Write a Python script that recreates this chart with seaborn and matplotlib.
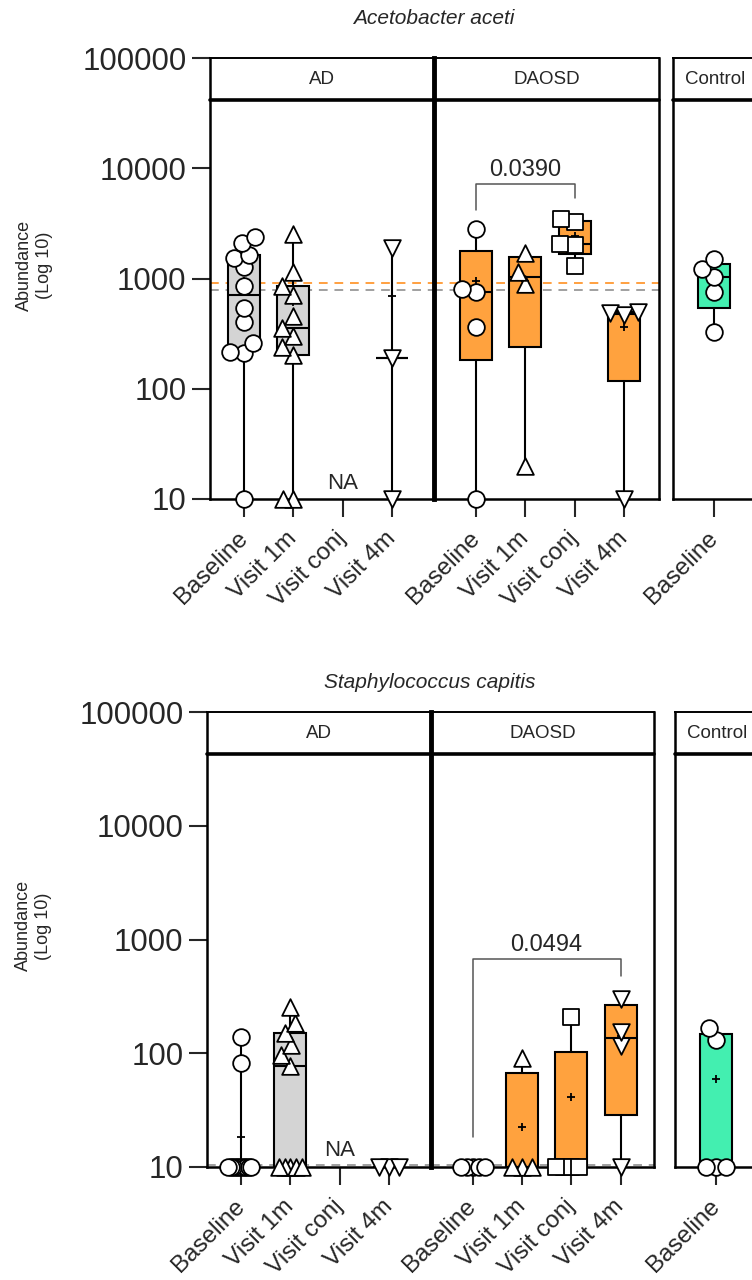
import warnings
warnings.filterwarnings("ignore")
import numpy as np
import pandas as pd
import matplotlib
matplotlib.use("Agg")
import matplotlib.pyplot as plt
from matplotlib.ticker import NullLocator
import seaborn as sns

# ---------------- data (zeros are plotted at the axis floor) ----------------
visits = ["Baseline", "Visit 1m", "Visit conj", "Visit 4m"]
visits_ctrl = ["Baseline"]
groups = ["AD", "DAOSD", "Control"]

# Acetobacter aceti
aa_ad_baseline = [0, 210, 217, 262, 405, 545, 863, 1260, 1550, 1650, 2120, 2360]
aa_ad_v1m = [0, 0, 204, 240, 300, 358, 455, 715, 850, 1150, 2510]
aa_ad_vconj = []
aa_ad_v4m = [0, 190, 1900]
aa_daosd_baseline = [0, 365, 747, 795, 2790]
aa_daosd_v1m = [20, 900, 1150, 1720]
aa_daosd_vconj = [1310, 2000, 2040, 3240, 3440]
aa_daosd_v4m = [0, 470, 490, 500]
aa_ctrl_baseline = [324, 750, 1040, 1210, 1490]
aa_ref_gray = 780
aa_ref_orange = 910
aa_pvalue = "0.0390"

# Staphylococcus capitis
sc_ad_baseline = [0, 0, 0, 0, 0, 0, 0, 0, 0, 0, 82, 138]
sc_ad_v1m = [0, 0, 0, 0, 0, 78, 96, 117, 150, 183, 253]
sc_ad_vconj = []
sc_ad_v4m = [0, 0, 0]
sc_daosd_baseline = [0, 0, 0, 0, 0]
sc_daosd_v1m = [0, 0, 0, 90]
sc_daosd_vconj = [0, 0, 0, 0, 207]
sc_daosd_v4m = [0, 115, 155, 300]
sc_ctrl_baseline = [0, 0, 0, 130, 166]
sc_ref_gray = 10.5
sc_pvalue = "0.0494"

yticks = [10, 100, 1000, 10000, 100000]
ytick_labels = ["10", "100", "1000", "10000", "100000"]
FLOOR = 10

# ---------------- styles ----------------
sns.set_style("white")
plt.rcParams["font.family"] = ["Liberation Sans", "DejaVu Sans"]
box_colors = {"AD": "#D4D4D4", "DAOSD": "#FFA23E", "Control": "#43EFB0"}
markers = {"Baseline": "o", "Visit 1m": "^", "Visit conj": "s", "Visit 4m": "v"}
MS = 12            # drawn marker size (pt)
EDGE = 1.3         # marker edge width (pt)
LAYOUT_MS = 8.5    # marker size used for the swarm layout (points overlap a bit)
FLOOR_SPREAD = 16  # pt: total spread of points sitting on the axis floor
FLOOR_STEP = 7     # pt: max spacing between floor points

W, H = 752, 1280
fig = plt.figure(figsize=(W / 100, H / 100), dpi=100)
swarm_colls = []


def add_ax(l, t, r, b):
    return fig.add_axes([l / W, 1 - b / H, (r - l) / W, (b - t) / H])


def box_stats(vals):
    v = np.asarray(vals, float)
    q1, med, q3 = np.percentile(v, [25, 50, 75], method="weibull")
    if len(v) < 4:
        q1 = q3 = med
    f = lambda z: max(z, FLOOR)
    return dict(med=f(med), q1=f(q1), q3=f(q3), whislo=f(v.min()),
                whishi=f(v.max()), fliers=[])


def swarm(ax, cats, c, vals, layout_size):
    if len(vals) == 0:
        return
    df = pd.DataFrame({"visit": c, "value": np.maximum(vals, FLOOR)})
    n0 = len(ax.collections)
    sns.swarmplot(data=df, x="visit", y="value", order=cats, marker=markers[c],
                  size=layout_size, color="white", edgecolor="black", linewidth=EDGE,
                  ax=ax, zorder=4, clip_on=False, warn_thresh=1)
    swarm_colls.extend(ax.collections[n0:])


def draw_panel(ax, name, cats, data, xlim, header_frac, show_y, refs):
    ax.set_yscale("log")
    for c, col in refs:
        ax.axhline(c, color=col, ls=(0, (4.5, 3.5)), lw=1.4, zorder=1)
    for i, vals in enumerate(data):
        if len(vals) == 0:
            ax.text(i, FLOOR * 1.12, "NA", ha="center", va="bottom", fontsize=16)
            continue
        ax.bxp([box_stats(vals)], positions=[i], widths=0.65, patch_artist=True,
               showcaps=False, showfliers=False, manage_ticks=False,
               boxprops=dict(facecolor=box_colors[name], edgecolor="black", linewidth=1.5),
               medianprops=dict(color="black", linewidth=1.5),
               whiskerprops=dict(color="black", linewidth=1.5), zorder=2)
    # means (+)
    mpos = [i for i, v in enumerate(data) if len(v) and np.mean(v) > 0]
    mval = [float(np.mean(data[i])) for i in mpos]
    if mpos:
        sns.scatterplot(x=mpos, y=mval, marker="+", s=30, color="black",
                        linewidth=1.3, ax=ax, zorder=3, legend=False)
    # points: values above the floor and values on the floor are laid out separately
    for c, vals in zip(cats, data):
        above = [v for v in vals if v > FLOOR]
        floor = [v for v in vals if v <= FLOOR]
        swarm(ax, cats, c, above, LAYOUT_MS)
        if floor:
            step = min(FLOOR_STEP, FLOOR_SPREAD / max(len(floor) - 1, 1))
            lsz = max(0.3, step - EDGE)
            swarm(ax, cats, c, floor, lsz)
    ax.set_ylim(10, 100000)
    ax.set_xlim(*xlim)
    ax.yaxis.set_minor_locator(NullLocator())
    ax.set_xticks(range(len(cats)))
    ax.set_xticklabels(cats, rotation=45, ha="right", va="center",
                       rotation_mode="anchor", fontsize=17.5)
    ax.tick_params(axis="x", direction="out", length=13, width=1.5, pad=13, bottom=True)
    if show_y:
        ax.set_yticks(yticks)
        ax.set_yticklabels(ytick_labels, fontsize=22.5)
        ax.tick_params(axis="y", direction="out", length=13, width=1.5, pad=4, left=True)
    else:
        ax.set_yticks([])
    ax.set_xlabel("")
    ax.set_ylabel("")
    for s in ax.spines.values():
        s.set_visible(True)
        s.set_color("black")
        s.set_linewidth(1.8)
    ax.spines["top"].set_linewidth(1.4)
    ax.plot([0, 1], [header_frac, header_frac], transform=ax.transAxes,
            color="black", lw=2.6, clip_on=False, zorder=6)
    ax.text(0.5, (1 + header_frac) / 2, name, transform=ax.transAxes,
            ha="center", va="center", fontsize=13.5)


def bracket(ax, x0, x1, y, y0, y1, label):
    ax.plot([x0, x0, x1, x1], [y0, y, y, y1], color="#555555", lw=1.1, zorder=5)
    ax.text((x0 + x1) / 2, y * 1.06, label, ha="center", va="bottom", fontsize=17)


GRAY, ORANGE = "#A0A0A0", "#FFA040"

# ---------------- top panel ----------------
t, b = 58, 499
hf = 1 - 42 / (b - t)
ax1 = add_ax(210, t, 434, b)
ax2 = add_ax(434, t, 659, b)
ax3 = add_ax(673, t, 757, b)
draw_panel(ax1, "AD", visits, [aa_ad_baseline, aa_ad_v1m, aa_ad_vconj, aa_ad_v4m],
           (-0.69, 3.85), hf, True, [(aa_ref_orange, ORANGE), (aa_ref_gray, GRAY)])
draw_panel(ax2, "DAOSD", visits,
           [aa_daosd_baseline, aa_daosd_v1m, aa_daosd_vconj, aa_daosd_v4m],
           (-0.85, 3.71), hf, False, [(aa_ref_orange, ORANGE), (aa_ref_gray, GRAY)])
draw_panel(ax3, "Control", visits_ctrl, [aa_ctrl_baseline], (-0.83, 0.87), hf, False, [])
ax2.spines["left"].set_linewidth(3.5)
bracket(ax2, 0, 2, 7200, 4200, 5400, aa_pvalue)
ax1.set_ylabel("Abundance\n(Log 10)", fontsize=13, linespacing=1.25)
ax1.yaxis.set_label_coords(-0.70, 0.53)
fig.text(434 / W, 1 - 18 / H, "Acetobacter aceti", style="italic", fontsize=15,
         ha="center", va="center")

# ---------------- bottom panel ----------------
t, b = 712, 1167
hf = 1 - 42 / (b - t)
bx1 = add_ax(207, t, 431, b)
bx2 = add_ax(431, t, 654, b)
bx3 = add_ax(675, t, 759, b)
draw_panel(bx1, "AD", visits, [sc_ad_baseline, sc_ad_v1m, sc_ad_vconj, sc_ad_v4m],
           (-0.69, 3.85), hf, True, [(sc_ref_gray, GRAY)])
draw_panel(bx2, "DAOSD", visits,
           [sc_daosd_baseline, sc_daosd_v1m, sc_daosd_vconj, sc_daosd_v4m],
           (-0.85, 3.68), hf, False, [(sc_ref_gray, GRAY)])
draw_panel(bx3, "Control", visits_ctrl, [sc_ctrl_baseline], (-0.83, 0.87), hf, False, [])
bx2.spines["left"].set_linewidth(3.5)
bracket(bx2, 0, 3, 680, 18.3, 480, sc_pvalue)
bx1.set_ylabel("Abundance\n(Log 10)", fontsize=13, linespacing=1.25)
bx1.yaxis.set_label_coords(-0.69, 0.53)
fig.text(430 / W, 1 - 683 / H, "Staphylococcus capitis", style="italic", fontsize=15,
         ha="center", va="center")

# lay the swarms out with the smaller layout size, then draw the markers full size
fig.canvas.draw()
for coll in swarm_colls:
    if "draw" in coll.__dict__:
        del coll.draw
    coll.set_sizes([MS ** 2])

fig.savefig("out.png", dpi=100)
